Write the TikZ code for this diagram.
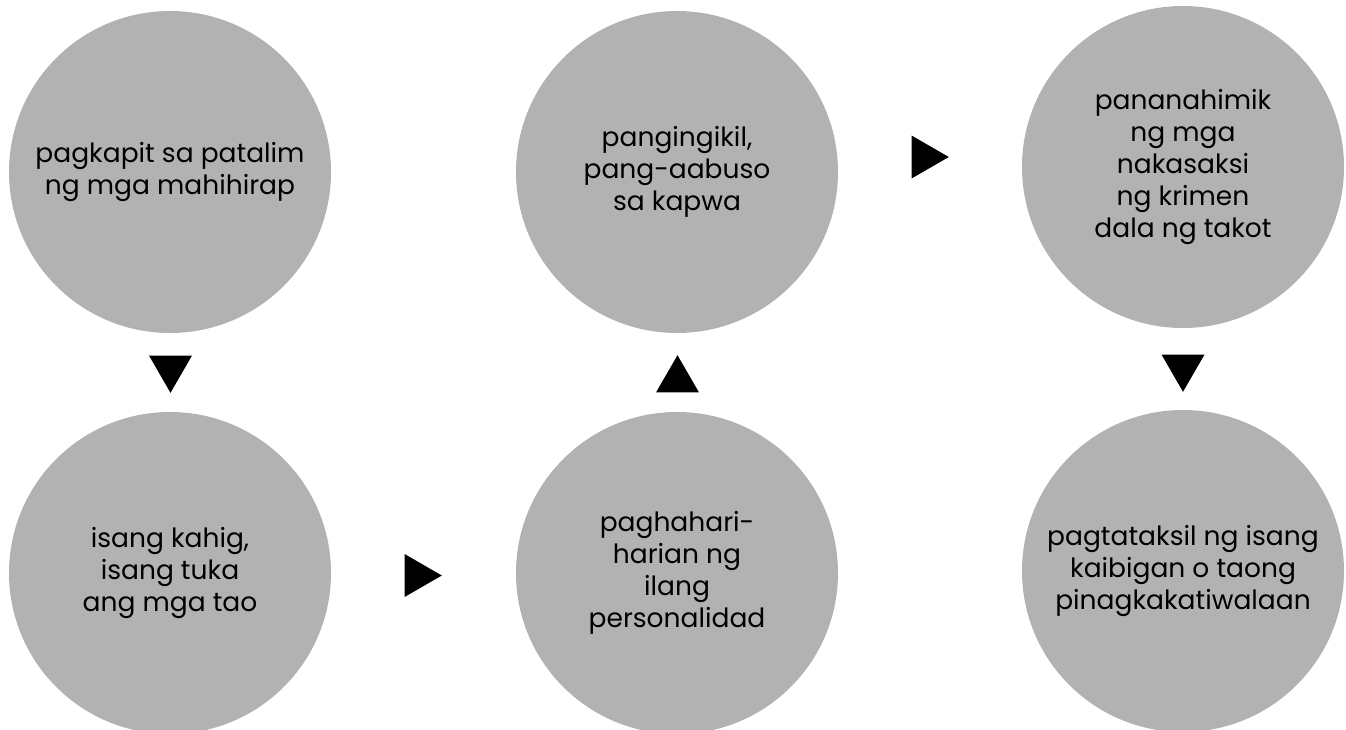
\documentclass[tikz,border=0pt]{standalone}
\usepackage{fontspec}
\setmainfont{Poppins}
\usetikzlibrary{shapes.geometric}
\definecolor{circgray}{RGB}{178,178,178}
\begin{document}
\begin{tikzpicture}[x=1pt,y=-1pt,
  bubble/.style={circle, fill=circgray, minimum size=322pt, inner sep=0pt, align=center,
    font=\fontsize{26.5}{32}\selectfont, text=black},
  tri/.style={regular polygon, regular polygon sides=3, fill=black, minimum size=49.6pt, inner sep=0pt}]
\useasboundingbox (0,0) rectangle (1346,729);
\clip (0,0) rectangle (1346,729);
\node[bubble] (a) at (170,172) {pagkapit sa patalim\\ng mga mahihirap};
\node[bubble] (b) at (170,573) {isang kahig,\\isang tuka\\ang mga tao};
\node[bubble] (c) at (677,573) {paghahari-\\harian ng\\ilang\\personalidad};
\node[bubble] (d) at (677,172) {pangingikil,\\pang-aabuso\\sa kapwa};
\node[bubble] (e) at (1183,167) {pananahimik\\ng mga\\nakasaksi\\ng krimen\\dala ng takot};
\node[bubble] (f) at (1183,571) {pagtataksil ng isang\\kaibigan o taong\\pinagkakatiwalaan};
\node[tri, shape border rotate=180] (t1) at (170.5,368) {};
\node[tri, shape border rotate=270] (t2) at (417,575.5) {};
\node[tri] (t3) at (677.5,380) {};
\node[tri, shape border rotate=270] (t4) at (924,157) {};
\node[tri, shape border rotate=180] (t5) at (1183,367) {};
\end{tikzpicture}
\end{document}
